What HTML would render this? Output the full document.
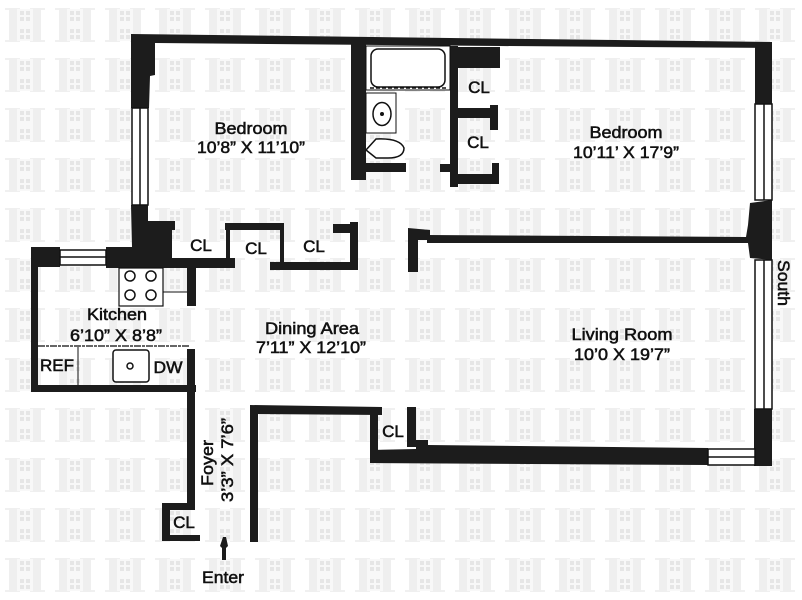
<!DOCTYPE html>
<html><head><meta charset="utf-8"><style>html,body{margin:0;padding:0;background:#fff}svg{display:block}text{font-family:"Liberation Sans",sans-serif;font-size:17px;fill:#111;stroke:#111;stroke-width:.55px}</style></head>
<body>
<svg width="802" height="600" viewBox="0 0 802 600" xmlns="http://www.w3.org/2000/svg">
<defs><pattern id="h" x="0" y="0" width="50" height="50" patternUnits="userSpaceOnUse">
<rect x="5" y="8" width="15" height="2" fill="#f0f0f0"/><rect x="30" y="8" width="15" height="2" fill="#f0f0f0"/>
<rect x="5" y="40" width="15" height="2" fill="#f0f0f0"/><rect x="30" y="40" width="15" height="2" fill="#f0f0f0"/>
<rect x="9" y="8" width="8" height="34" fill="#efefef"/><rect x="33" y="8" width="8" height="34" fill="#efefef"/>
<rect x="17" y="9" width="16" height="32" fill="#f8f8f8"/>
<g fill="#e6e6e6"><rect x="20" y="11" width="4" height="4"/><rect x="26" y="11" width="4" height="4"/><rect x="20" y="17" width="4" height="4"/><rect x="26" y="17" width="4" height="4"/><rect x="20" y="29" width="4" height="4"/><rect x="26" y="29" width="4" height="4"/><rect x="20" y="35" width="4" height="4"/><rect x="26" y="35" width="4" height="4"/></g>
</pattern></defs>
<rect width="802" height="600" fill="#fff"/>
<rect width="802" height="600" fill="url(#h)"/>
<g fill="#1c1c1c">
<polygon points="131,34 772,42 772,48 500,46 155,43 155,75 150,76 149,108 131,108"/>
<rect x="755" y="44" width="17" height="60"/>
<polygon points="131,205 148,205 148,221 175,221 175,230 172,230 172,258 235,258 235,268 196,268 196,306 187,306 187,268 106,268 106,247 132,247"/>
<rect x="31" y="247" width="29" height="20"/><rect x="31" y="247" width="7" height="145"/><rect x="31" y="385" width="165" height="7"/>
<rect x="187" y="349" width="8" height="161"/><rect x="162" y="503" width="33" height="7"/><rect x="162" y="503" width="8" height="38"/><rect x="162" y="535" width="38" height="6"/>
<rect x="250" y="406" width="8" height="136"/><polygon points="250,405 382,407 382,415 250,414"/><rect x="370" y="407" width="8" height="55"/><rect x="407" y="407" width="9" height="40"/>
<polygon points="370,450 416,449 416,440 428,440 428,445 708,448 708,465 370,463"/>
<rect x="754" y="409" width="18" height="57"/>
<polygon points="750,203 772,200 772,260 750,258 748,243 427,243 427,235 746,237 748,225"/>
<polygon points="408,228 430,230 430,240 418,240 418,272 408,272"/>
<rect x="351" y="44" width="15" height="136"/><rect x="351" y="163" width="55" height="9"/>
<rect x="450" y="46" width="8" height="141"/><rect x="450" y="47" width="50" height="21"/><rect x="458" y="108" width="40" height="10"/><rect x="490" y="105" width="8" height="25"/>
<rect x="440" y="164" width="18" height="8"/><rect x="450" y="174" width="49" height="10"/><rect x="492" y="163" width="7" height="21"/>
<rect x="225" y="223" width="58" height="7"/><rect x="226" y="223" width="4" height="36"/><rect x="280" y="223" width="4" height="40"/>
<rect x="270" y="262" width="88" height="8"/><rect x="350" y="222" width="8" height="48"/><rect x="333" y="224" width="25" height="9"/>
<polygon points="223,537 226,537 228,546 226,548 226,560 222,560 222,548 220,546"/>
</g>
<g fill="#fff" stroke="#111" stroke-width="1.5">
<rect x="132" y="108" width="16" height="97"/><path d="M140 108V205" fill="none"/>
<rect x="755" y="104" width="17" height="96"/><path d="M764 104V200" fill="none"/>
<rect x="755" y="260" width="17" height="149"/><path d="M764 260V409" fill="none"/>
<rect x="60" y="250" width="46" height="15"/><path d="M60 257H106" fill="none"/>
<rect x="708" y="449" width="47" height="16"/><path d="M708 457H755" fill="none"/>
</g>
<g fill="#fff" stroke="#111" stroke-width="1.5">
<rect x="366" y="46" width="84" height="44" stroke-width="1"/>
<rect x="371" y="49" width="74" height="38" rx="7"/>
<rect x="366" y="93" width="30" height="40" stroke-width="1"/>
<ellipse cx="382" cy="114" rx="9" ry="11.5"/>
<path d="M366 150 L376 139 Q400 138 404 148 Q404 158 388 158 L376 158 Z"/>
<rect x="119" y="268" width="44" height="38" stroke-width="1.2"/>
<circle cx="130" cy="276" r="5"/><circle cx="151" cy="276" r="5"/><circle cx="130" cy="295" r="5"/><circle cx="151" cy="295" r="5"/>
<rect x="113" y="350" width="36" height="32" rx="3"/>
<circle cx="130" cy="366" r="3"/>
</g>
<circle cx="382" cy="114" r="2" fill="#111"/>
<path d="M163 292H187M78 347V385" stroke="#111" stroke-width="1" fill="none"/>
<path d="M38 346H190" stroke="#333" stroke-width="1.5" stroke-dasharray="7 1 3 1" fill="none"/>
<path d="M370 88H448" stroke="#111" stroke-width="1.5" stroke-dasharray="4 2" fill="none"/>
<text x="251" y="134" text-anchor="middle" textLength="73" lengthAdjust="spacingAndGlyphs">Bedroom</text>
<text x="251" y="153" text-anchor="middle" textLength="108" lengthAdjust="spacingAndGlyphs">10’8” X 11’10”</text>
<text x="626" y="138" text-anchor="middle" textLength="73" lengthAdjust="spacingAndGlyphs">Bedroom</text>
<text x="626" y="158" text-anchor="middle" textLength="106" lengthAdjust="spacingAndGlyphs">10’11’ X 17’9”</text>
<text x="312" y="334" text-anchor="middle" textLength="94" lengthAdjust="spacingAndGlyphs">Dining Area</text>
<text x="311" y="353" text-anchor="middle" textLength="110" lengthAdjust="spacingAndGlyphs">7’11” X 12’10”</text>
<text x="622" y="340" text-anchor="middle" textLength="101" lengthAdjust="spacingAndGlyphs">Living Room</text>
<text x="622" y="360" text-anchor="middle" textLength="96" lengthAdjust="spacingAndGlyphs">10’0 X 19’7”</text>
<text x="117" y="320" text-anchor="middle" textLength="60" lengthAdjust="spacingAndGlyphs">Kitchen</text>
<text x="116" y="341" text-anchor="middle" textLength="92" lengthAdjust="spacingAndGlyphs">6’10” X 8’8”</text>
<text x="57" y="371" text-anchor="middle" textLength="34" lengthAdjust="spacingAndGlyphs">REF</text>
<text x="168" y="373" text-anchor="middle" textLength="29" lengthAdjust="spacingAndGlyphs">DW</text>
<text x="479" y="93" text-anchor="middle">CL</text>
<text x="478" y="148" text-anchor="middle">CL</text>
<text x="201" y="251" text-anchor="middle">CL</text>
<text x="256" y="254" text-anchor="middle">CL</text>
<text x="314" y="252" text-anchor="middle">CL</text>
<text x="393" y="437" text-anchor="middle">CL</text>
<text x="184" y="528" text-anchor="middle">CL</text>
<text x="223" y="583" text-anchor="middle" textLength="42" lengthAdjust="spacingAndGlyphs">Enter</text>
<text transform="translate(213,463) rotate(-90)" text-anchor="middle" textLength="46" lengthAdjust="spacingAndGlyphs">Foyer</text>
<text transform="translate(233,460) rotate(-90)" text-anchor="middle" textLength="84" lengthAdjust="spacingAndGlyphs">3’3” X 7’6”</text>
<text transform="translate(778,283) rotate(90)" text-anchor="middle" textLength="46" lengthAdjust="spacingAndGlyphs">South</text>
</svg>
</body></html>
